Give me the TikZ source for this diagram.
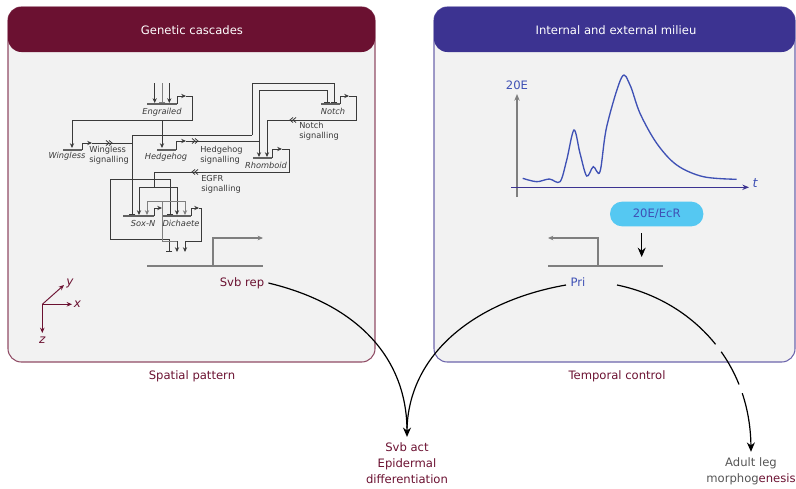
\documentclass[tikz,border=0pt]{standalone}
\usepackage{fontspec}
\setmainfont{DejaVu Sans}[ItalicFont={DejaVu Sans Oblique},BoldFont={DejaVu Sans Bold}]
\usetikzlibrary{arrows.meta}
\definecolor{maroon}{HTML}{6B1131}
\definecolor{indigo}{HTML}{3C3391}
\definecolor{panel}{HTML}{F2F2F2}
\definecolor{netc}{HTML}{3A3A3A}
\definecolor{netg}{HTML}{7F7F7F}
\definecolor{blueT}{HTML}{3F51B5}
\definecolor{pillc}{HTML}{55C8F2}
\definecolor{greyT}{HTML}{555555}
\begin{document}
\begin{tikzpicture}[x=0.75pt,y=-0.75pt,
  net/.style={draw=netc,line width=0.7pt},
  act/.style={net,-{Stealth[length=3.6pt,width=3.2pt]}},
  inh/.style={net,-{Bar[width=5pt,line width=0.8pt]}},
  genebar/.style={draw=netc!80,line width=0.9pt},
  prom/.style={net,-{Stealth[length=3.6pt,width=3.2pt]}},
  bigprom/.style={draw=netg,line width=0.8pt,-{Stealth[length=4pt,width=3.4pt]}},
  bigbar/.style={draw=netg,line width=0.9pt},
  gname/.style={font=\fontsize{6.2}{7}\selectfont\itshape,text=netc,inner sep=0},
  sname/.style={font=\fontsize{6.2}{7.4}\selectfont,text=netc,inner sep=0,align=left},
  lab/.style={font=\fontsize{8.7}{12}\selectfont,inner sep=3pt},
  bigarrow/.style={draw=black,line width=0.9pt,-{Stealth[length=7pt,width=6pt]}},
  chev/.pic={\draw[draw=netc,line width=0.6pt] (-3,-2.5)--(0,0)--(-3,2.5) (0,-2.5)--(3,0)--(0,2.5);}
]
\useasboundingbox (0,0) rectangle (796,489);

% ---------- panels ----------
\draw[draw=maroon!75,fill=panel,line width=0.8pt,rounded corners=10] (8,7) rectangle (375,362);
\fill[maroon,rounded corners=10] (8,7) rectangle (375,52);
\draw[draw=indigo!75,fill=panel,line width=0.8pt,rounded corners=10] (434,7) rectangle (795,362);
\fill[indigo,rounded corners=10] (434,7) rectangle (795,52);
\node[lab,text=white] (t1) at (192,30) {Genetic cascades};
\node[lab,text=white] (t2) at (616,30) {Internal and external milieu};
\node[lab,text=maroon] (sp) at (192,376) {Spatial pattern};
\node[lab,text=maroon] (tc) at (617,376) {Temporal control};

% ---------- gene network ----------
% Engrailed
\draw[genebar] (147,104)--(177,104);
\node[gname] (en) at (162,112) {Engrailed};
\draw[act] (154.7,83)--(154.7,103);
\draw[inh,draw=netg] (162,83)--(162,103);
\draw[act] (169.3,83)--(169.3,103);
\draw[prom] (177,104)--(177,96)--(186,96);
\draw[net] (186,96)--(192,96)--(192,120)--(72,120);
\draw[act] (72,120)--(72,148);
\draw[act] (162,120)--(162,148);

% Wingless
\draw[genebar] (63,150)--(82,150);
\node[gname] (wg) at (67,156.5) {Wingless};
\draw[prom] (82,150)--(82,143)--(92,143);
\draw[net] (92,143)--(132,143);
\pic at (109,143) {chev};
\node[sname,anchor=north west] (wgs) at (89,146) {Wingless\\signalling};

% Hedgehog
\draw[genebar] (157,150)--(176,150);
\node[gname] (hh) at (166,157.5) {Hedgehog};
\draw[prom] (176,150)--(176,141)--(186,141);
\draw[net] (186,141)--(259,141);
\pic at (195,141) {chev};
\node[sname,anchor=north west] (hhs) at (200,146) {Hedgehog\\signalling};

% Wingless signalling line to Notch / Sox-N / Dichaete / Svb
\draw[inh] (252,135)--(252,83)--(334,83)--(334,103);
\draw[net] (132,135)--(252,135);
\draw[inh] (132,135)--(132,215);
\draw[net] (110,179)--(170,179);
\draw[inh] (170,179)--(170,215);
\draw[inh] (110,179)--(110,239)--(169,239)--(169,252);

% Hedgehog signalling to Notch / Rhomboid
\draw[inh] (259,141)--(259,90)--(327,90)--(327,103);
\draw[act] (259,141)--(259,157);

% Notch
\draw[genebar] (321,104)--(340,104);
\node[gname] (no) at (333,111.5) {Notch};
\draw[prom] (340,104)--(340,96)--(349,96);
\draw[net] (349,96)--(356,96)--(356,120)--(267,120);
\draw[act] (267,120)--(267,157);
\pic[xscale=-1] at (293,120) {chev};
\node[sname,anchor=north west] (nos) at (299,122) {Notch\\signalling};

% Rhomboid
\draw[genebar] (253,158)--(272,158);
\node[gname] (rho) at (266,165.5) {Rhomboid};
\draw[prom] (272,158)--(272,149)--(282,149);
\draw[net] (282,149)--(289,149)--(289,172)--(154,172)--(154,187);
\pic[xscale=-1] at (195,172) {chev};
\node[sname,anchor=north west] (egs) at (201,175) {EGFR\\signalling};
\draw[net] (139,187)--(177,187);
\draw[act] (139,187)--(139,215);
\draw[act] (177,187)--(177,215);

% Sox-N / Dichaete cross-regulation
\draw[net,draw=netg] (147,201)--(185,201);
\draw[act,draw=netg] (147,201)--(147,215);
\draw[act,draw=netg] (185,201)--(185,215);

% Sox-N
\draw[genebar] (123,216)--(154,216);
\node[gname] (sox) at (143,223.5) {Sox-N};
\draw[prom] (154,216)--(154,208)--(162,208);
\draw[net,draw=netg] (162,201)--(162,241)--(177,241);
\draw[act] (177,241)--(177,252);

% Dichaete
\draw[genebar] (163,216)--(191,216);
\node[gname] (dic) at (181,223.5) {Dichaete};
\draw[prom] (191,216)--(191,208)--(199,208);
\draw[net] (199,208)--(201,208)--(201,241)--(185,241);
\draw[act] (185,241)--(185,252);

% Svb gene
\draw[bigbar] (147,266)--(263,266);
\draw[bigprom] (213,266)--(213,238)--(263,238);
\node[lab,text=maroon] (svbrep) at (242,283) {Svb rep};

% axes x y z
\coordinate (o) at (42.3,304.3);
\draw[draw=maroon,line width=0.7pt,-{Stealth[length=4pt,width=3.4pt]}] (o)--(64,285);
\draw[draw=maroon,line width=0.7pt,-{Stealth[length=4pt,width=3.4pt]}] (o)--(72,304.3);
\draw[draw=maroon,line width=0.7pt,-{Stealth[length=4pt,width=3.4pt]}] (o)--(42.3,333);
\node[lab,inner sep=0,text=maroon,font=\fontsize{9}{10}\selectfont\itshape] (ly) at (70,283) {y};
\node[lab,inner sep=0,text=maroon,font=\fontsize{9}{10}\selectfont\itshape] (lx) at (77.5,304.3) {x};
\node[lab,inner sep=0,text=maroon,font=\fontsize{9}{10}\selectfont\itshape] (lz) at (42.3,340) {z};

% ---------- right panel: 20E graph ----------
\draw[draw=netg,line width=0.9pt,-{Stealth[length=5pt,width=4pt]}] (517,197)--(517,94);
\draw[draw=indigo,line width=0.8pt,-{Stealth[length=5pt,width=4pt]}] (511,187.3)--(749,187.3);
\node[lab,inner sep=0,text=blueT] (e20) at (517,85) {20E};
\node[lab,inner sep=0,text=blueT,font=\fontsize{9.5}{10}\selectfont\itshape] (tt) at (755,183) {t};
\draw[draw=blueT,line width=1pt] plot[smooth,tension=0.55] coordinates {
 (522.7,178.3) (536.7,181.7) (549.3,179) (560,181.7) (566.7,160) (574,130) (580,153.3)
 (586.7,176) (593.3,166.7) (600,171.7) (606.7,126.7) (621.7,77.3) (630,85) (640,113.3)
 (656.7,143.3) (676.7,165) (703.3,176.7) (736.7,179.3)};

\node[lab,fill=pillc,text=blueT,rounded corners=9pt,minimum width=70pt,minimum height=18.5pt] (ecr) at (656.7,214) {20E/EcR};

% Pri gene
\draw[bigbar] (548,266)--(663,266);
\draw[bigprom] (598,266)--(598,238)--(548,238);
\coordinate (ecrout) at (641.7,233);
\coordinate (prisite) at (641.7,257);
\draw[bigarrow] (ecrout)--(prisite);
\node[lab,text=blueT] (pri) at (578,282) {Pri};
\coordinate (priL) at (566,285);
\coordinate (priR) at (617,285);

% ---------- outputs ----------
\node[lab,text=maroon,align=center,inner sep=4pt] (svbact) at (407,463) {Svb act\\Epidermal\\differentiation};
\node[lab,text=greyT,align=center,inner sep=4pt] (adult) at (751,471) {Adult leg\\morphog\textcolor{maroon}{enesis}};

\draw[bigarrow] (svbrep.east) .. controls (360,305) and (407,360) .. (svbact.north);
\draw[draw=black,line width=0.9pt] (priL) .. controls (480,300) and (410,350) .. (407,428);
\draw[bigarrow,dash pattern=on 88pt off 7pt on 28pt off 7pt on 60pt] (priR) .. controls (690,300) and (750,360) .. (adult.north);
\end{tikzpicture}
\end{document}
